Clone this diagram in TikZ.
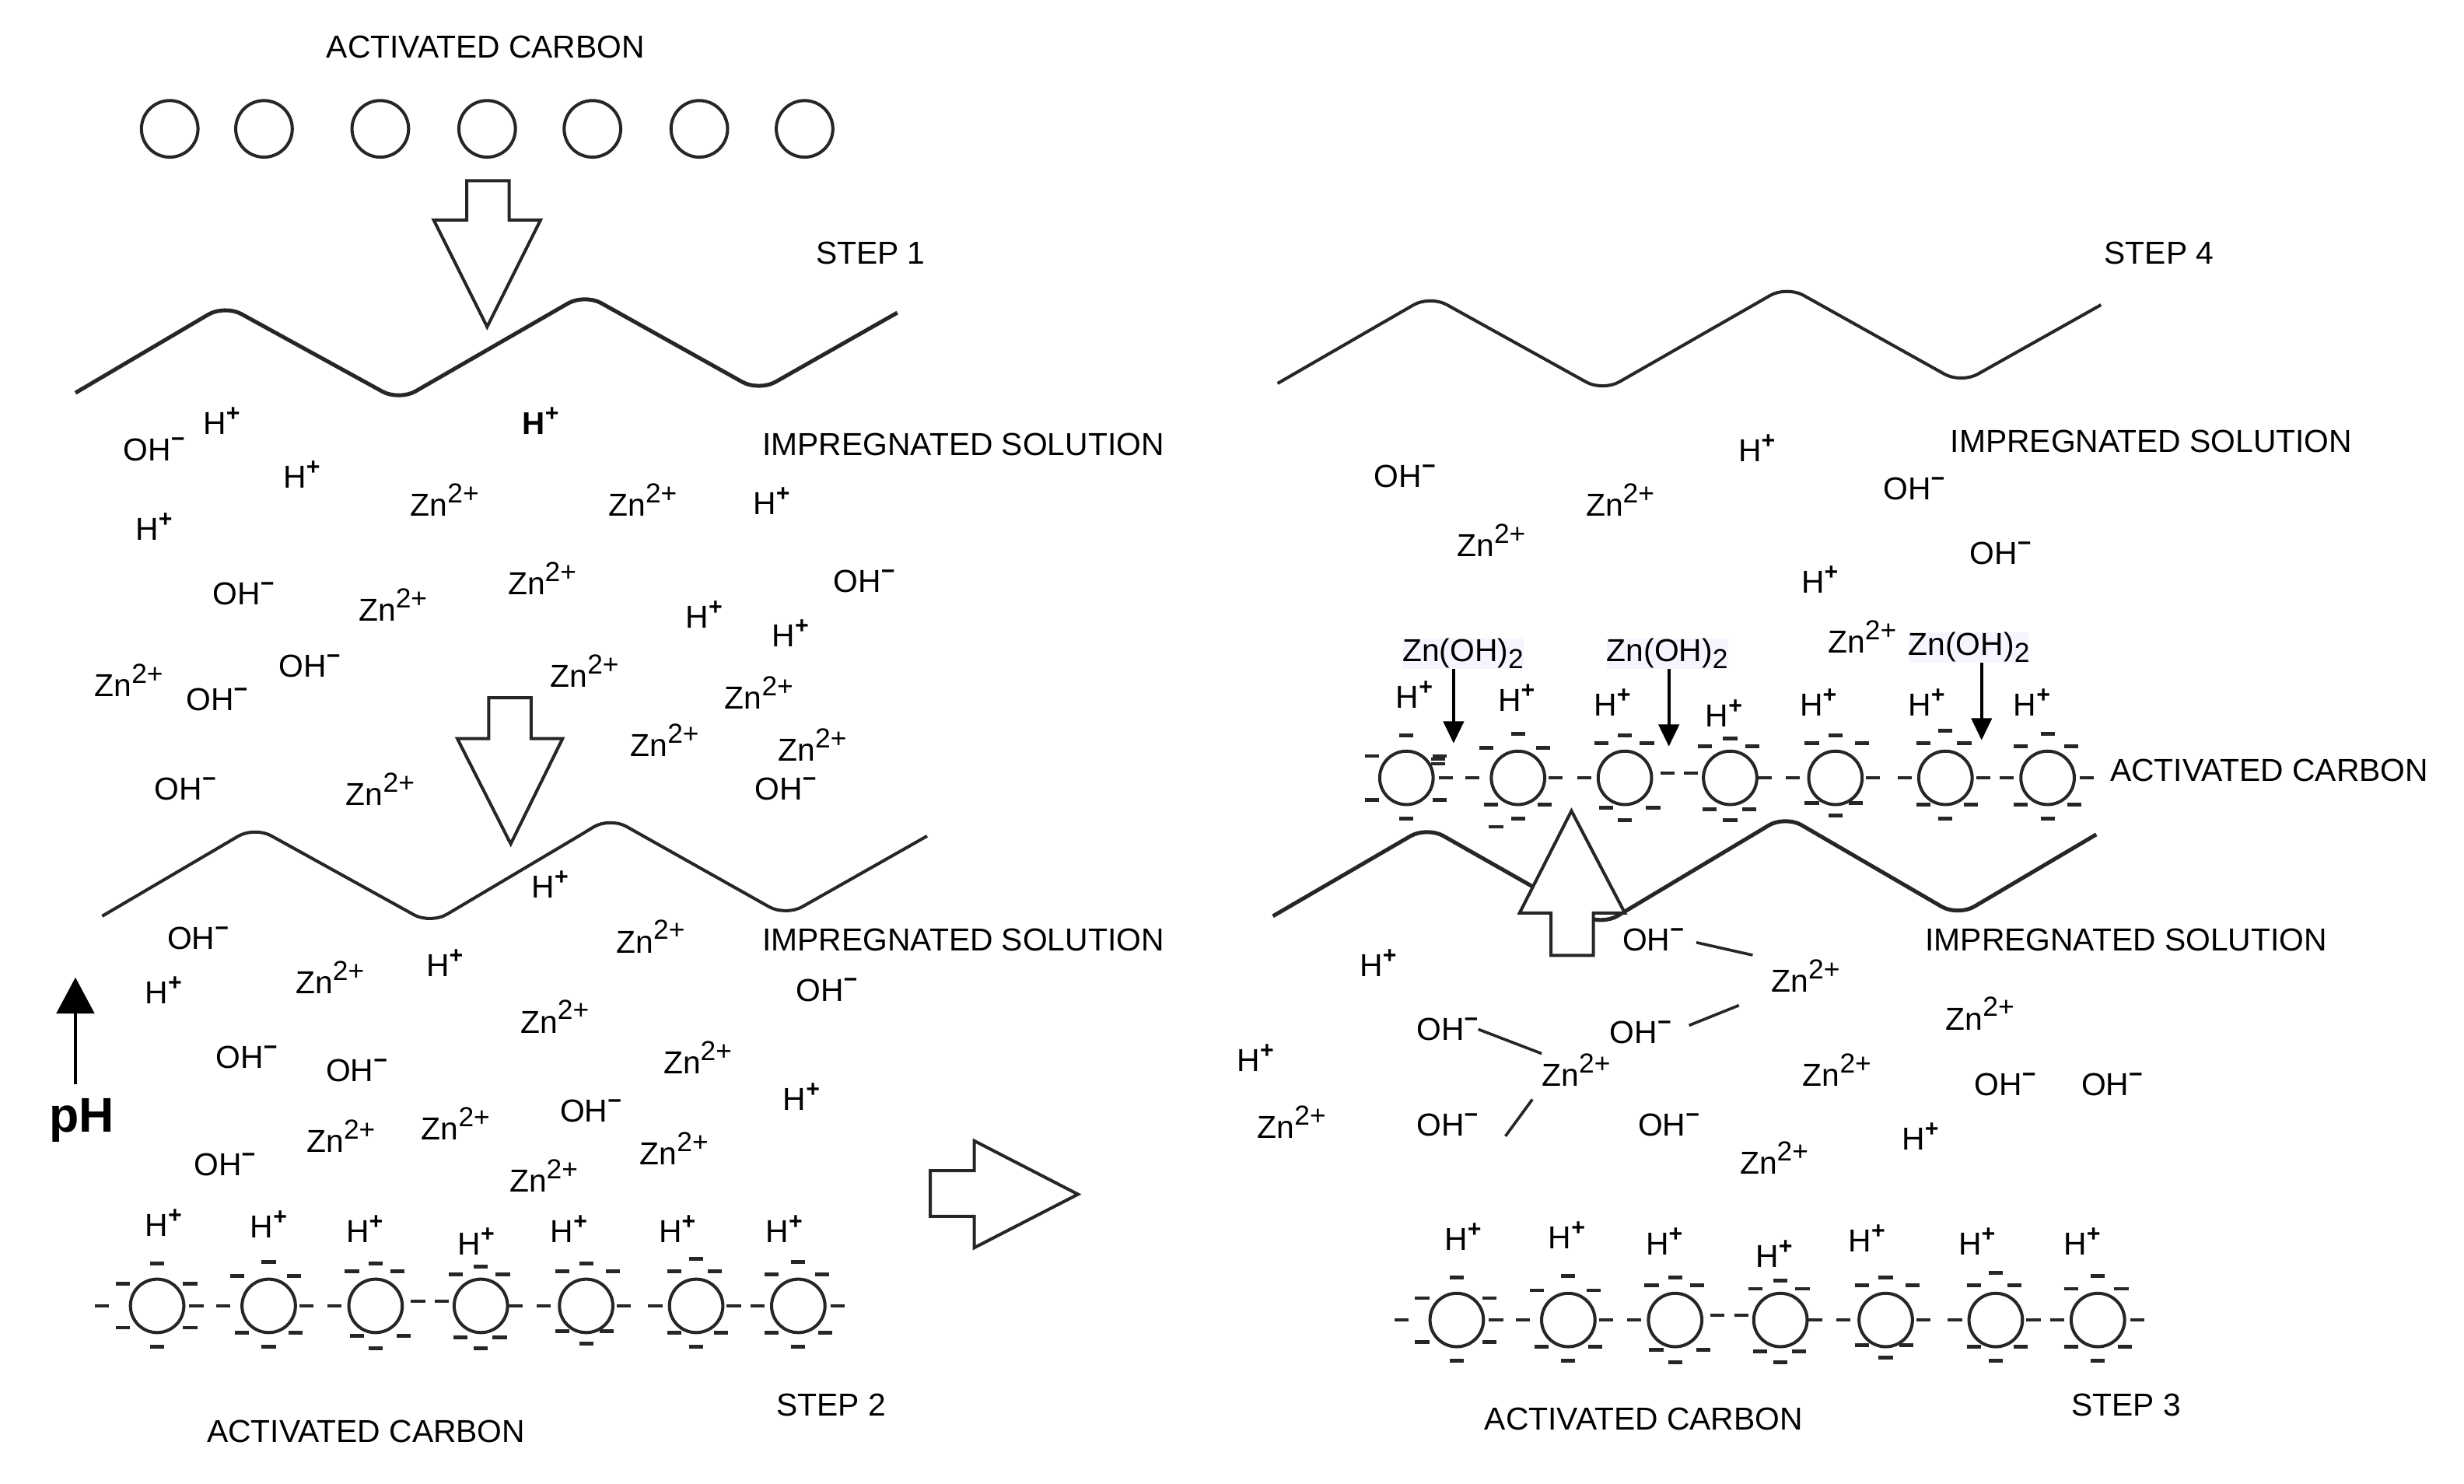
\documentclass[tikz,border=0pt]{standalone}
\usepackage{fontspec}
\setmainfont{Liberation Sans}
\usetikzlibrary{arrows.meta}
\newcommand\supf{\fontsize{15}{15}\selectfont\bfseries}
\newcommand\Hp{H\raisebox{.42em}{\supf +}}
\newcommand\OHm{OH\raisebox{.42em}{\supf \symbol{"2212}}}
\newcommand\Znn{Zn\raisebox{.42em}{\fontsize{17.5}{17.5}\selectfont 2+}}
\newcommand\ZnOH{Zn(OH)\raisebox{-.22em}{\fontsize{17.5}{17.5}\selectfont 2}}
\tikzset{
  label text/.style={inner sep=0pt,font=\fontsize{20.2}{24}\selectfont},
  ion/.style={label text},
  carbon/.style={circle,draw=black!85,line width=2pt,minimum size=#1,inner sep=0pt},
  carbon/.default=34pt,
  tick/.style={draw=black!85,line width=2.2pt},
  wave/.style={draw=black!85,line width=2pt,rounded corners=12pt},
  wave thick/.style={wave,line width=2.5pt},
  hollow/.style={draw=black!85,fill=white,line width=2pt,line join=miter},
  bond/.style={draw=black!85,line width=1.8pt},
  drop/.style={draw=black,line width=1.9pt,-{Triangle[length=14pt,width=13pt]}},
  zoh/.style={label text,fill=blue!4}
}
% prefix, shift x, shift y, particle without a west tick
\newcommand\carbonrow[4]{%
\begin{scope}[shift={(#2,#3)}]
\foreach \cx/\nd/\nw/\ne/\uy/\sw/\se/\ly/\sd/\wx/\wy/\ex/\ey [count=\i] in {
 100/-27/-22/21/-14/-22/21/14/26/-35/0/25/0,
 171/-28/-20/16/-19/-17/17/17/26/-29/0/24/0,
 239/-27/-15/14/-22/-12/18/19/27/-26/0/27/-3,
 306/-25/-16/14/-20/-13/12/20/27/-25/-3/22/0,
 373/-27/-15/17/-22/-15/13/16/24/-27/0/24/0,
 443/-30/-14/12/-22/-14/16/17/26/-26/0/24/0,
 508/-28/-17/15/-20/-17/17/17/26/-26/0/25/0}{
  \node[carbon] (#1\i) at (\cx,831) {};
  \foreach \a/\b in {0/\nd,\nw/\uy,\ne/\uy,\sw/\ly,\se/\ly,0/\sd,\ex/\ey}
    \draw[tick] ([shift={(\a-4.5,\b)}]#1\i.center) -- ([shift={(\a+4.5,\b)}]#1\i.center);
  \ifnum\i=#4\else
    \draw[tick] ([shift={(\wx-4.5,\wy)}]#1\i.center) -- ([shift={(\wx+4.5,\wy)}]#1\i.center);
  \fi
}
\end{scope}}
\begin{document}
\begin{tikzpicture}[x=1pt,y=-1pt]
\useasboundingbox (0,0) rectangle (1568,943.9);

% ---------- wavy surfaces
\draw[wave thick] (48,250) -- (143,194) -- (254,255) -- (372,187) -- (483,249) -- (571,199);
\draw[wave] (65,583) -- (162,526) -- (274,588) -- (370,531);
\draw[wave] (370,531) -- (388,520) -- (500,583) -- (590,532);
\draw[wave] (813,244) -- (910,188) -- (1020,249) -- (1137,182) -- (1248,244) -- (1337,194);
\draw[wave thick] (810,583) -- (908,526) -- (1019,589) -- (1136,519) -- (1246,583) -- (1334,531);

% ---------- top activated carbon
\foreach \x [count=\i] in {108,168,242,310,377,445,512}
  \node[carbon=36pt] (top\i) at (\x,82) {};

% ---------- rows of charged carbon
\carbonrow{ll}{0}{0}{0}
\carbonrow{lr}{827}{9}{0}
\carbonrow{ur}{795}{-336}{1}
\draw[tick] (910.5,483) -- (919.5,483);
\draw[tick] (910.5,486) -- (919.5,486);
\draw[tick] (947.5,526) -- (956.5,526);

% ---------- big hollow arrows
\draw[hollow] (297,115) -- (324,115) -- (324,140) -- (344,140) -- (310,208) -- (276,140) -- (297,140) -- cycle;
\draw[hollow] (311,444) -- (338,444) -- (338,470) -- (358,470) -- (325,537) -- (291,470) -- (311,470) -- cycle;
\draw[hollow] (592,745) -- (620,745) -- (620,726) -- (686,760) -- (620,794) -- (620,774) -- (592,774) -- cycle;
\draw[hollow] (987,608) -- (1014,608) -- (1014,581) -- (1034,581) -- (1000,516) -- (967,581) -- (987,581) -- cycle;

% ---------- labels
\node[label text] (t1) at (309,30) {ACTIVATED CARBON};
\node[label text] (t2) at (554,161) {STEP 1};
\node[label text] (t3) at (613,283) {IMPREGNATED SOLUTION};
\node[label text] (t4) at (613,598) {IMPREGNATED SOLUTION};
\node[label text] (t5) at (529,894) {STEP 2};
\node[label text] (t6) at (233,911) {ACTIVATED CARBON};
\node[label text] (t7) at (1374,161) {STEP 4};
\node[label text] (t8) at (1369,281) {IMPREGNATED SOLUTION};
\node[label text] (t9) at (1444,490) {ACTIVATED CARBON};
\node[label text] (t10) at (1353,598) {IMPREGNATED SOLUTION};
\node[label text] (t11) at (1046,903) {ACTIVATED CARBON};
\node[label text] (t12) at (1353,894) {STEP 3};
\node[inner sep=0pt,font=\fontsize{31}{36}\selectfont\bfseries] (ph) at (52,713) {pH};
\coordinate (phtip) at (48,622);
\draw[black,line width=2pt,-{Triangle[length=23pt,width=24pt]}] (48,690) -- (phtip);

% ---------- ions
\node[ion,font=\fontsize{20}{24}\selectfont\bfseries] (hbold) at (344,268) {H\raisebox{.42em}{\supf +}};
\foreach \x/\y [count=\i] in {141/268,192/302,98/335,491/319,448/391,503/403,350/563,283/613,104/630,510/698,
 104/778,171/779,232/782,303/790,362/782,431/782,499/782,
 1118/285,1158/369,900/442,965/444,1026/447,1097/454,1157/447,1226/447,1293/447,
 877/613,799/673,1222/723,
 931/787,997/786,1059/790,1129/798,1188/788,1258/790,1325/790}
  \node[ion] (h\i) at (\x,\y) {\Hp};
\foreach \x/\y [count=\i] in {98/286,155/378,550/370,138/445,197/424,500/502,118/502,
 126/597,526/630,157/673,227/681,376/707,143/741,
 894/303,1218/311,1273/352,1276/690,1344/690,1062/716}
  \node[ion] (oh\i) at (\x,\y) {\OHm};
\foreach \x/\y [count=\i] in {283/318,409/318,250/385,345/368,82/433,372/427,483/441,423/471,517/474,242/502,
 414/596,210/622,353/647,444/673,290/715,217/723,429/731,346/748,
 1031/318,949/344,1185/405,1260/645,1169/681,822/714,1129/737}
  \node[ion] (zn\i) at (\x,\y) {\Znn};

% ---------- ions joined by bonds
\node[ion] (ohA) at (1052,598) {\OHm};
\node[ion] (ohB) at (921,655) {\OHm};
\node[ion] (ohC) at (1044,657) {\OHm};
\node[ion] (ohD) at (921,716) {\OHm};
\node[ion] (znA) at (1149,621) {\Znn};
\node[ion] (znB) at (1003,681) {\Znn};
\coordinate (bondend) at (958,723);
\draw[bond,shorten <=8pt,shorten >=12pt] (ohA.east) -- (znA.north west);
\draw[bond] (ohB.east) -- (znB.north west);
\draw[bond,shorten <=12pt,shorten >=22pt] (ohC.east) -- (znA.south west);
\draw[bond,shorten <=10pt] (znB.south west) -- (bondend);

% ---------- Zn(OH)2 with their arrows
\node[zoh] (zoA) at (931,416) {\ZnOH};
\node[zoh] (zoB) at (1061,416) {\ZnOH};
\node[zoh] (zoC) at (1253,412) {\ZnOH};
\coordinate (tipA) at (925,473);
\coordinate (tipB) at (1062,475);
\coordinate (tipC) at (1261,471);
\draw[drop] (tipA |- zoA.south) -- (tipA);
\draw[drop] (tipB |- zoB.south) -- (tipB);
\draw[drop] (tipC |- zoC.south) -- (tipC);
\end{tikzpicture}
\end{document}
